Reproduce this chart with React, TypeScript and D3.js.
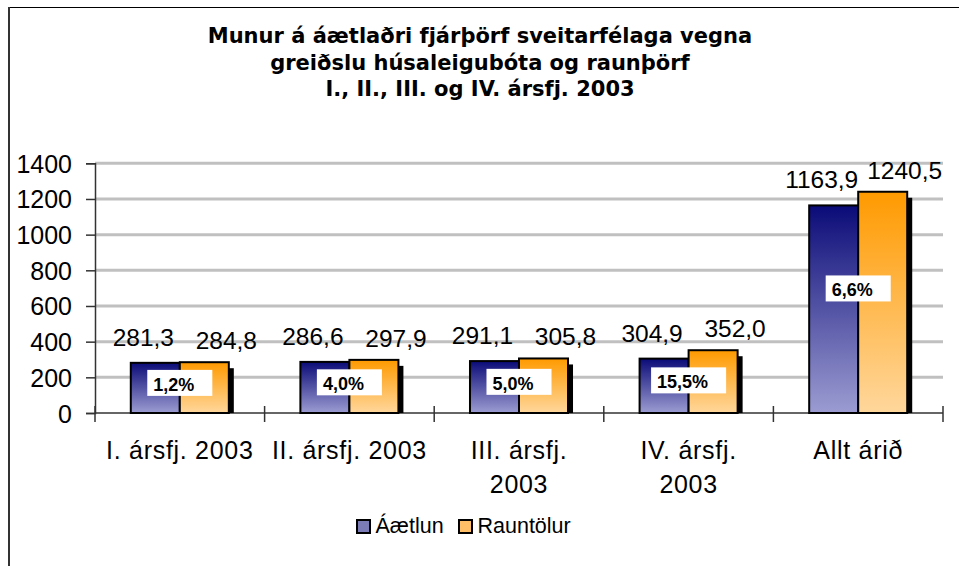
import { useEffect, useRef } from "react"
import * as d3 from "d3"

const categories = [
  ["I. ársfj. 2003"],
  ["II. ársfj. 2003"],
  ["III. ársfj.", "2003"],
  ["IV. ársfj.", "2003"],
  ["Allt árið"],
]
const seriesNames = ["Áætlun", "Rauntölur"]
const aaetlun = [281.3, 286.6, 291.1, 304.9, 1163.9]
const rauntolur = [284.8, 297.9, 305.8, 352.0, 1240.5]
const diffLabels = ["1,2%", "4,0%", "5,0%", "15,5%", "6,6%"]
const yTicks = [0, 200, 400, 600, 800, 1000, 1200, 1400]
const titleLines = [
  "Munur á áætlaðri fjárþörf sveitarfélaga vegna",
  "greiðslu húsaleigubóta og raunþörf",
  "I., II., III. og IV. ársfj. 2003",
]

const fmt = (v: number) => v.toFixed(1).replace(".", ",")

export default function App() {
  const svgRef = useRef<SVGSVGElement>(null)

  useEffect(() => {
    if (!svgRef.current) return
    d3.select(svgRef.current).selectAll("*").remove()

    const svg = d3.select(svgRef.current)
    const W = 959
    const H = 566
    const left = 95
    const right = 943
    const top = 163.3
    const bottom = 413
    const font = "'Liberation Sans', Arial, sans-serif"

    const x = d3
      .scaleBand<number>()
      .domain(categories.map((_, i) => i))
      .range([left, right])
      .padding(0)
    const y = d3.scaleLinear().domain([0, 1400]).range([bottom, top])
    const barW = x.bandwidth() * 0.289

    // gradients
    const defs = svg.append("defs")
    const grads = [
      { id: "gA", c1: "#0b0b78", c2: "#9c9cd2" },
      { id: "gR", c1: "#ff9a00", c2: "#ffd79c" },
    ]
    grads.forEach((g) => {
      const lg = defs.append("linearGradient").attr("id", g.id).attr("x1", 0).attr("y1", 0).attr("x2", 0).attr("y2", 1)
      lg.append("stop").attr("offset", "0%").attr("stop-color", g.c1)
      lg.append("stop").attr("offset", "100%").attr("stop-color", g.c2)
    })

    svg.append("rect").attr("width", W).attr("height", H).attr("fill", "white")

    // frame
    svg.append("line").attr("x1", 8).attr("x2", W).attr("y1", 7.5).attr("y2", 7.5).attr("stroke", "#000").attr("stroke-width", 1)
    svg.append("line").attr("x1", 9).attr("x2", 9).attr("y1", 7).attr("y2", H).attr("stroke", "#333").attr("stroke-width", 2)

    // title
    svg
      .append("g")
      .selectAll("text")
      .data(titleLines)
      .enter()
      .append("text")
      .attr("x", 480)
      .attr("y", (_, i) => 43 + i * 26.5)
      .attr("text-anchor", "middle")
      .attr("font-family", "'DejaVu Sans', Verdana, sans-serif")
      .attr("font-weight", "bold")
      .attr("font-size", "21px")
      .text((d) => d)

    // grid
    svg
      .append("g")
      .selectAll("line")
      .data(yTicks.filter((t) => t > 0))
      .enter()
      .append("line")
      .attr("x1", left)
      .attr("x2", right)
      .attr("y1", (d) => y(d))
      .attr("y2", (d) => y(d))
      .attr("stroke", "#c0c0c0")
      .attr("stroke-width", 3)

    // y axis
    const yAxis = svg
      .append("g")
      .attr("transform", `translate(${left},0)`)
      .call(d3.axisLeft(y).tickValues(yTicks).tickFormat(d3.format("d")).tickSize(9).tickPadding(14))
    yAxis.select(".domain").attr("stroke", "#333").attr("stroke-width", 1.5)
    yAxis.selectAll(".tick line").attr("stroke", "#333").attr("stroke-width", 1.5)
    yAxis.selectAll("text").attr("font-family", font).attr("font-size", "25px").attr("fill", "#000").attr("dy", "0.36em")

    // x axis
    svg
      .append("line")
      .attr("x1", left)
      .attr("x2", right)
      .attr("y1", bottom)
      .attr("y2", bottom)
      .attr("stroke", "#333")
      .attr("stroke-width", 1.5)
    svg
      .append("g")
      .selectAll("line")
      .data([...categories.map((_, i) => x(i) as number), right])
      .enter()
      .append("line")
      .attr("x1", (d) => d)
      .attr("x2", (d) => d)
      .attr("y1", bottom - 7)
      .attr("y2", bottom + 9)
      .attr("stroke", "#333")
      .attr("stroke-width", 1.5)

    // category labels
    const catG = svg.append("g")
    categories.forEach((lines, i) => {
      const cx = (x(i) as number) + x.bandwidth() / 2
      lines.forEach((ln, j) => {
        catG
          .append("text")
          .attr("x", cx)
          .attr("y", 459 + j * 33.5)
          .attr("text-anchor", "middle")
          .attr("font-family", font)
          .attr("font-size", "25px")
          .attr("letter-spacing", "0.7px")
          .text(ln)
      })
    })

    const series = [
      { vals: aaetlun, grad: "gA", off: 0, dx: -12, dy: -17 },
      { vals: rauntolur, grad: "gR", off: 1, dx: 22, dy: -13 },
    ]

    // shadows
    series.forEach((s) => {
      svg
        .append("g")
        .selectAll("rect")
        .data(s.vals)
        .enter()
        .append("rect")
        .attr("x", (_, i) => (x(i) as number) + x.bandwidth() / 2 - barW + s.off * barW + 5)
        .attr("y", (d) => y(d) + 6)
        .attr("width", barW)
        .attr("height", (d) => bottom - y(d) - 6)
        .attr("fill", "#000")
    })

    // bars
    series.forEach((s) => {
      svg
        .append("g")
        .selectAll("rect")
        .data(s.vals)
        .enter()
        .append("rect")
        .attr("x", (_, i) => (x(i) as number) + x.bandwidth() / 2 - barW + s.off * barW)
        .attr("y", (d) => y(d))
        .attr("width", barW)
        .attr("height", (d) => bottom - y(d))
        .attr("fill", `url(#${s.grad})`)
        .attr("stroke", "#000")
        .attr("stroke-width", 2)
    })

    // value labels
    series.forEach((s) => {
      svg
        .append("g")
        .selectAll("text")
        .data(s.vals)
        .enter()
        .append("text")
        .attr("x", (_, i) => (x(i) as number) + x.bandwidth() / 2 - barW / 2 + s.off * barW + s.dx)
        .attr("y", (d) => y(d) + s.dy)
        .attr("text-anchor", "middle")
        .attr("font-family", font)
        .attr("font-size", "24.5px")
        .text((d) => fmt(d))
    })

    // difference boxes
    diffLabels.forEach((lab, i) => {
      const cx = (x(i) as number) + x.bandwidth() / 2
      const cy = y(aaetlun[i] * 0.6)
      const g = svg.append("g")
      const rect = g.append("rect").attr("fill", "white")
      const t = g
        .append("text")
        .attr("font-family", font)
        .attr("font-weight", "bold")
        .attr("font-size", "18px")
        .text(lab)
      const tw = (t.node() as SVGTextElement).getComputedTextLength()
      const bw = tw + 24
      rect.attr("x", cx - bw / 2).attr("y", cy - 13).attr("width", bw).attr("height", 26)
      t.attr("x", cx - bw / 2 + 6).attr("y", cy + 8)
    })

    // legend
    const legendItems = [
      { name: seriesNames[0], fill: "#7b7bb8", x: 356 },
      { name: seriesNames[1], fill: "#ffbf66", x: 458 },
    ]
    legendItems.forEach((l) => {
      svg
        .append("rect")
        .attr("x", l.x + 1)
        .attr("y", 520)
        .attr("width", 13)
        .attr("height", 13)
        .attr("fill", l.fill)
        .attr("stroke", "#000")
        .attr("stroke-width", 2)
      svg
        .append("text")
        .attr("x", l.x + 19.5)
        .attr("y", 533)
        .attr("font-family", font)
        .attr("font-size", "21.5px")
        .text(l.name)
    })
  }, [])

  return (
    <svg
      ref={svgRef}
      width={959}
      height={566}
      style={{ position: "absolute", left: 0, top: 0, display: "block" }}
    />
  )
}
